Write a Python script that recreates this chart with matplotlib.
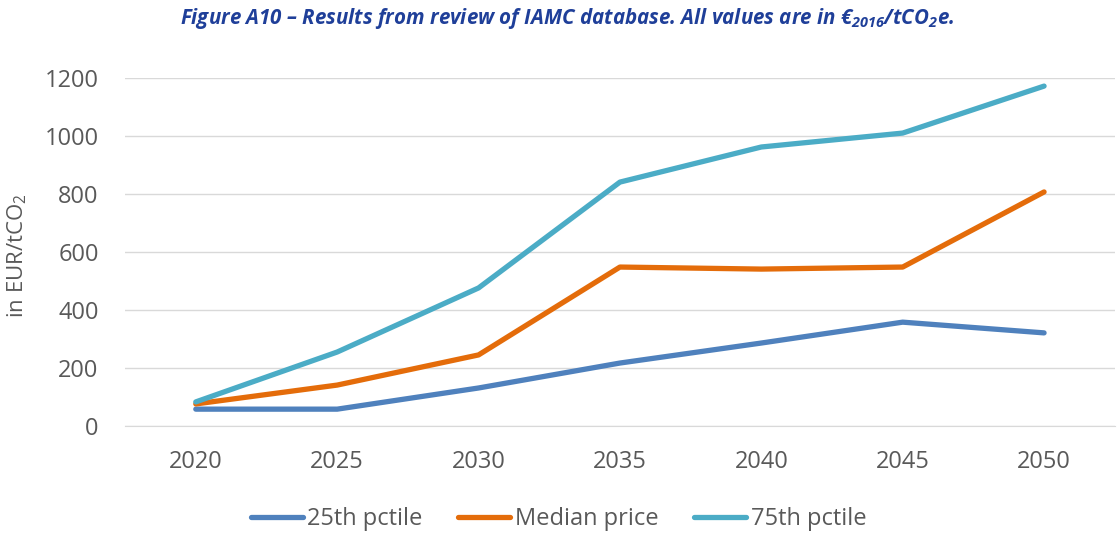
import matplotlib
matplotlib.use("Agg")
import matplotlib.pyplot as plt

# data
years = ["2020", "2025", "2030", "2035", "2040", "2045", "2050"]
p25 = [58, 58, 131, 217, 286, 358, 321]
median = [76, 141, 245, 548, 541, 548, 807]
p75 = [83, 255, 476, 841, 962, 1010, 1172]
yticks = [0, 200, 400, 600, 800, 1000, 1200]

plt.rcParams['font.family'] = ['Open Sans', 'DejaVu Sans']
plt.rcParams['mathtext.fontset'] = 'custom'
plt.rcParams['mathtext.rm'] = 'Open Sans'
plt.rcParams['mathtext.it'] = 'Open Sans:italic'
plt.rcParams['mathtext.bf'] = 'Open Sans:bold'
plt.rcParams['mathtext.bfit'] = 'Open Sans:italic:bold'

grey = '#595959'
fig = plt.figure(figsize=(11.17, 5.33), dpi=100)
ax = fig.add_axes([0.112, 0.2008, 0.886, 0.6529])

x = range(len(years))
ax.plot(x, p25, color='#4F81BD', lw=3.8, label='25th pctile', solid_capstyle='round', clip_on=False)
ax.plot(x, median, color='#E46C0A', lw=3.8, label='Median price', solid_capstyle='round', clip_on=False)
ax.plot(x, p75, color='#4BACC6', lw=3.8, label='75th pctile', solid_capstyle='round', clip_on=False)

ax.set_xlim(-0.5, len(years) - 0.5)
ax.set_ylim(0, 1200)
ax.set_yticks(yticks)
ax.set_xticks(list(x))
ax.set_xticklabels(years)
ax.grid(axis='y', color='#D9D9D9', lw=1)
ax.set_axisbelow(True)
for s in ['top', 'right', 'left']:
    ax.spines[s].set_visible(False)
ax.spines['bottom'].set_color('#D9D9D9')
ax.tick_params(length=0, labelsize=17, labelcolor=grey)
ax.tick_params(axis='x', pad=17)
ax.tick_params(axis='y', pad=19)
ax.set_ylabel('in EUR/tCO$_2$', fontsize=16, color=grey)
ax.yaxis.set_label_coords(-0.097, 0.49)

fig.text(0.508, 0.966,
         r'Figure A10 – Results from review of IAMC database. All values are in €$_{\mathbfit{2016}}$/tCO$_{\mathbfit{2}}$e.',
         ha='center', va='center', fontsize=14.8, fontweight='bold', style='italic', color='#1F3F99')

fig.legend(loc='center', bbox_to_anchor=(0.5, 0.026), ncol=3, frameon=False,
           fontsize=17, labelcolor=grey, handlelength=2.2, handletextpad=0.2, columnspacing=1.5)

fig.savefig('out.png', dpi=100)
